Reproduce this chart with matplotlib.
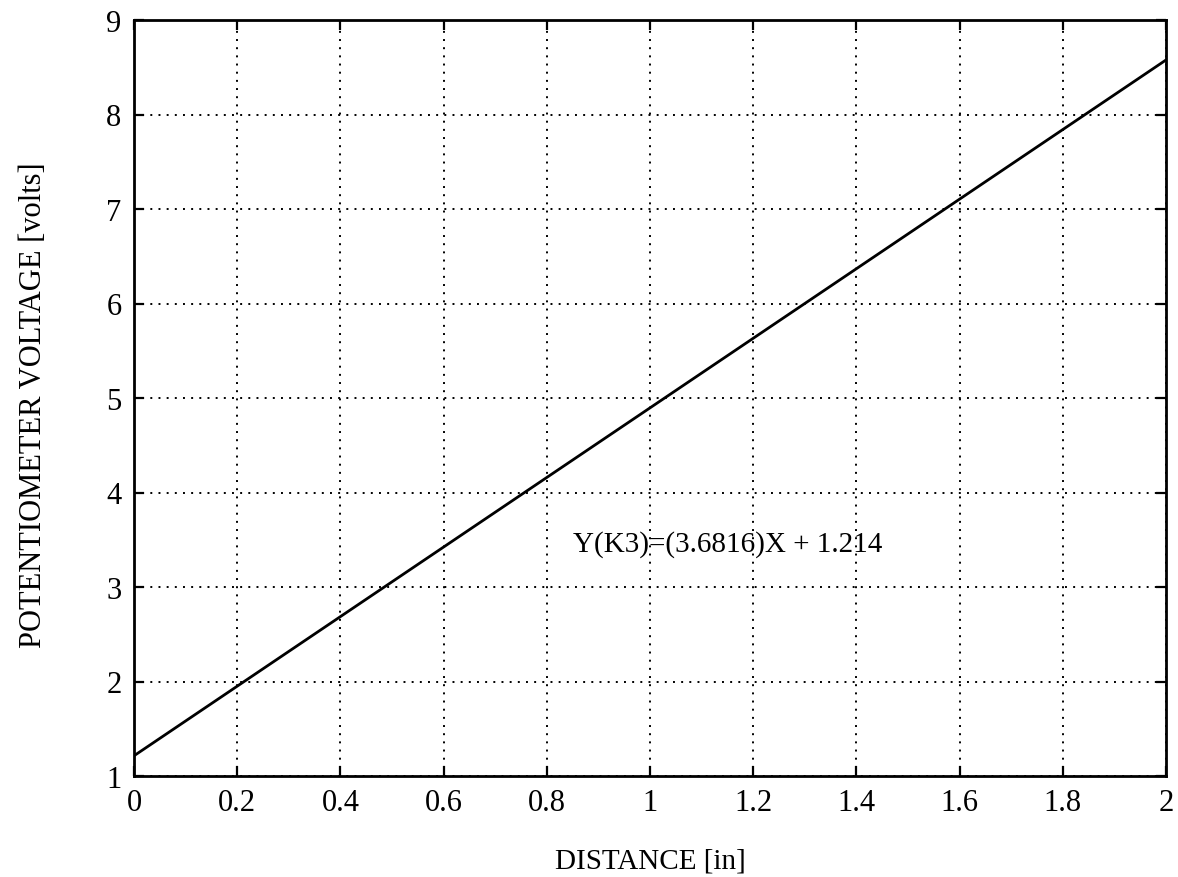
import matplotlib
matplotlib.use("Agg")
import matplotlib.pyplot as plt

# fitted line (end points)
distance = [0.0, 2.0]
voltage = [1.214, 8.577]

xticks = [0, 0.2, 0.4, 0.6, 0.8, 1, 1.2, 1.4, 1.6, 1.8, 2]
xticklabels = ["0", "0.2", "0.4", "0.6", "0.8", "1", "1.2", "1.4", "1.6", "1.8", "2"]
yticks = [1, 2, 3, 4, 5, 6, 7, 8, 9]

fit_text = "Y(K3)=(3.6816)X + 1.214"

plt.rcParams['font.family'] = ['Liberation Serif', 'DejaVu Serif']

fig = plt.figure(figsize=(11.78, 8.78), dpi=100)
ax = fig.add_axes([134/1178, 101/878, 1032/1178, 756/878])

ax.plot(distance, voltage, color='black', linewidth=2.0)

ax.set_xlim(0, 2)
ax.set_ylim(1, 9)
ax.set_xticks(xticks)
ax.set_xticklabels(xticklabels)
ax.set_yticks(yticks)

ax.grid(True, color='black', linestyle=(0, (1, 3.2)), linewidth=1.4)
for s in ax.spines.values():
    s.set_linewidth(2.0)

ax.tick_params(direction='in', length=7, width=1.6, top=True, right=True,
               labelsize=22)
ax.tick_params(axis='x', pad=9)
ax.tick_params(axis='y', pad=9)

ax.text(0.851, 3.455, fit_text, fontsize=21, va='center', ha='left')

fig.text(650/1178, 1 - 862/878, "DISTANCE [in]", ha='center', va='center',
         fontsize=21)
fig.text(34/1178, 1 - 405/878, "POTENTIOMETER VOLTAGE [volts]", ha='center',
         va='center', rotation=90, fontsize=22)

fig.savefig("out.png", dpi=100, facecolor='white')
